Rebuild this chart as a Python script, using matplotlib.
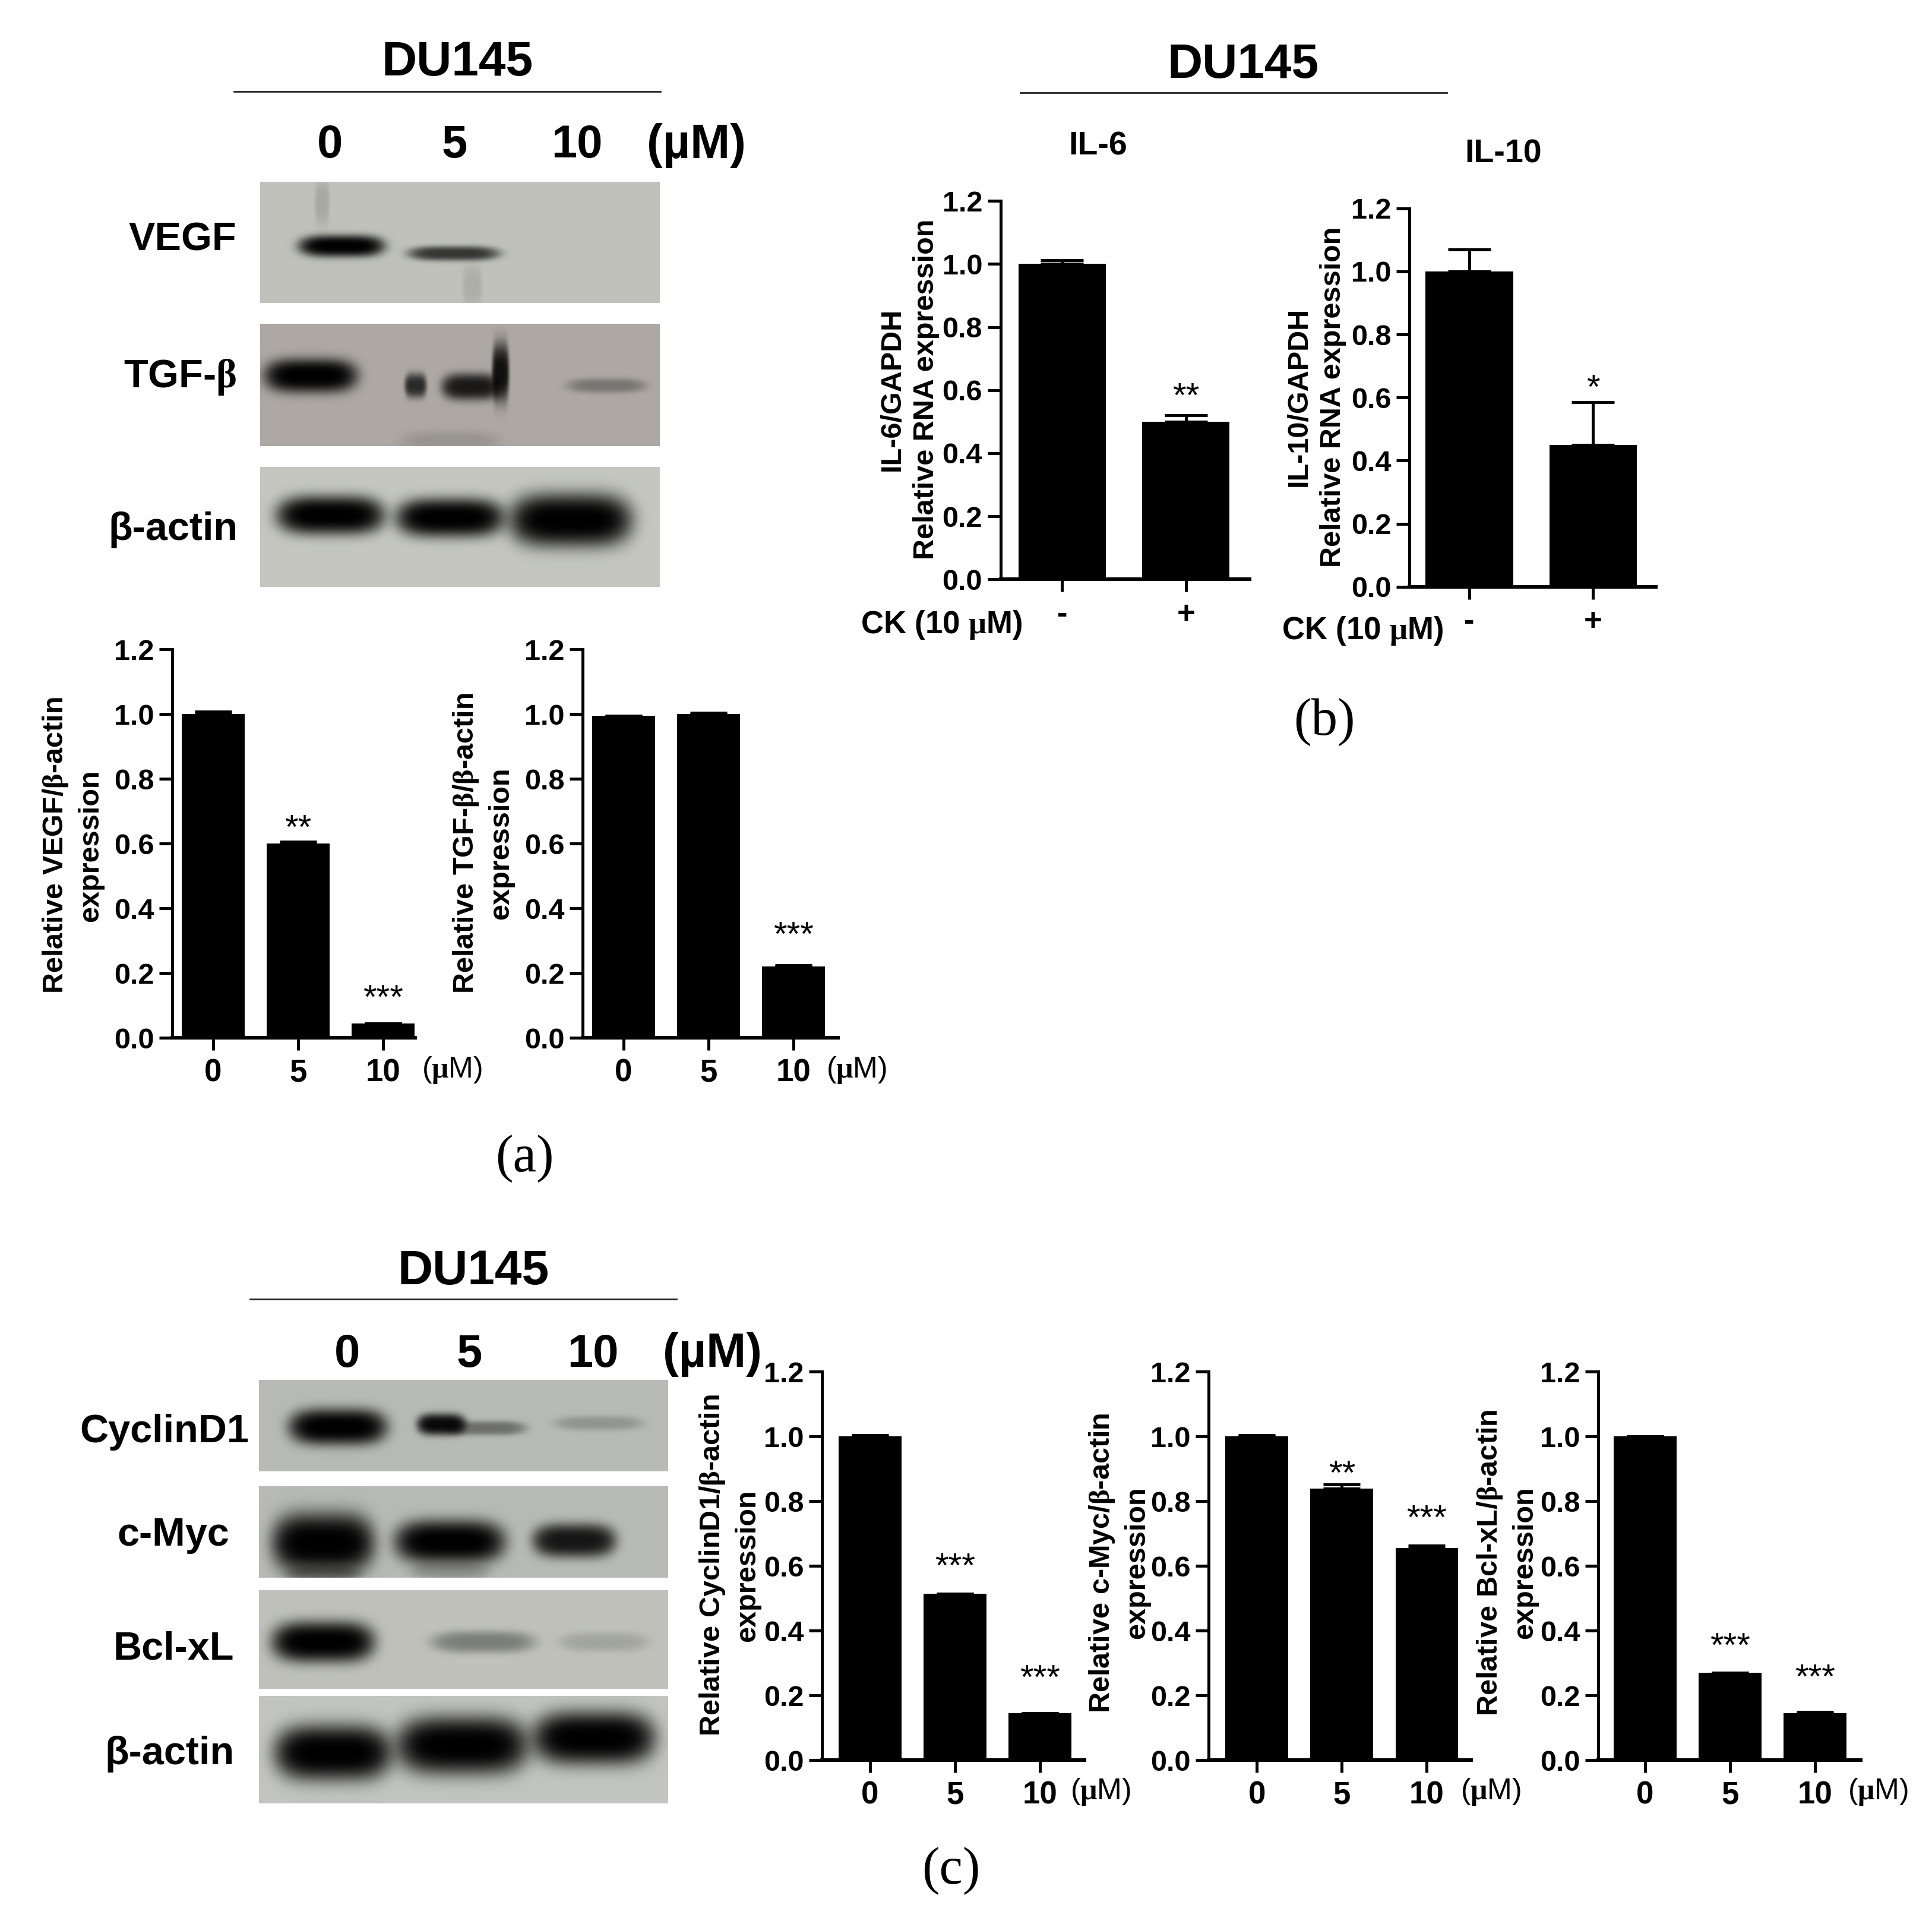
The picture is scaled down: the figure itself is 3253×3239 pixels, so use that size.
import numpy as np
import matplotlib
matplotlib.use('Agg')
import matplotlib.pyplot as plt

plt.rcParams['font.family'] = ['Liberation Sans', 'DejaVu Sans']
plt.rcParams['font.weight'] = 'bold'
plt.rcParams['mathtext.fontset'] = 'custom'
plt.rcParams['mathtext.rm'] = 'Liberation Serif'

W, H = 1568, 1561  # layout below is measured on the shrunk reference
BETA = r'$\mathrm{\beta}$'
MU = r'$\mathrm{\mu}$'

# bar values
doses = ['0', '5', '10']
treat = ['-', '+']
vegf = [1.0, 0.60, 0.045]
vegf_err = [0.008, 0.006, 0.0]
tgfb = [0.995, 1.0, 0.22]
tgfb_err = [0.0, 0.004, 0.005]
il6 = [1.0, 0.50]
il6_err = [0.012, 0.02]
il10 = [1.0, 0.45]
il10_err = [0.07, 0.135]
cyclin = [1.0, 0.515, 0.145]
cyclin_err = [0.005, 0.0, 0.0]
myc = [1.0, 0.84, 0.655]
myc_err = [0.005, 0.012, 0.007]
bcl = [1.0, 0.27, 0.145]
bcl_err = [0.0, 0.0, 0.004]
yticks = [0.0, 0.2, 0.4, 0.6, 0.8, 1.0, 1.2]

# panel: values, err, tick names, stars, star heights, ylabel, axis box, first bar px, step px, bar px, cap
panels = [
    (vegf, vegf_err, doses, ['', '**', '***'], [0, 0.644, 0.118], f'Relative VEGF/{BETA}-actin\nexpression',
     (140, 337, 527, 842), 173, 69, 51, 11, (59, 686)),
    (tgfb, tgfb_err, doses, ['', '', '***'], [0, 0, 0.312], f'Relative TGF-{BETA}/{BETA}-actin\nexpression',
     (473, 680, 527, 842), 506, 69, 51, 11, (392, 684)),
    (il6, il6_err, treat, ['', '**'], [0, 0.575], 'IL-6/GAPDH\nRelative RNA expression',
     (812, 1014, 163, 470), 862, 100.5, 71, 13, (738, 316)),
    (il10, il10_err, treat, ['', '*'], [0, 0.626], 'IL-10/GAPDH\nRelative RNA expression',
     (1144, 1344, 169, 476), 1192.5, 100.5, 71, 13, (1068, 322)),
    (cyclin, cyclin_err, doses, ['', '***', '***'], [0, 0.594, 0.248], f'Relative CyclinD1/{BETA}-actin\nexpression',
     (667, 880, 1113, 1428), 706, 69, 51, 11, (592, 1270)),
    (myc, myc_err, doses, ['', '**', '***'], [0, 0.88, 0.743], f'Relative c-Myc/{BETA}-actin\nexpression',
     (981, 1194, 1113, 1428), 1020, 69, 51, 11, (908, 1268)),
    (bcl, bcl_err, doses, ['', '***', '***'], [0, 0.347, 0.251], f'Relative Bcl-xL/{BETA}-actin\nexpression',
     (1297, 1510, 1113, 1428), 1335, 69, 51, 11, (1223, 1268)),
]

# blots: box (x0, x1, y0, y1), background colour, bands (cx, cy, half w, half h, darkness)
blots = [
    ((211, 535, 148, 246), (0.75, 0.76, 0.73), [(277, 200, 35, 9, 1.0), (368, 206, 37, 6, 0.72), (261, 165, 6, 18, 0.13),
                                                (383, 232, 8, 16, 0.1)]),
    ((211, 535, 263, 362), (0.68, 0.66, 0.64), [(252, 305, 38, 14, 1.0), (337, 313, 9, 10, 0.75), (382, 314, 24, 11, 0.85),
                                                (406, 302, 7, 24, 0.9), (492, 313, 32, 6, 0.3), (365, 358, 40, 8, 0.12)]),
    ((211, 535, 379, 476), (0.77, 0.78, 0.75), [(268, 418, 44, 16, 1.0), (365, 420, 44, 16, 1.0), (463, 422, 50, 22, 1.0)]),
    ((210, 542, 1120, 1194), (0.72, 0.73, 0.71), [(274, 1158, 40, 15, 1.0), (358, 1156, 20, 9, 0.95), (395, 1159, 32, 6, 0.4),
                                                  (486, 1155, 36, 6, 0.2)]),
    ((210, 542, 1206, 1280), (0.72, 0.73, 0.71), [(262, 1252, 42, 25, 1.0), (365, 1251, 45, 18, 1.0), (466, 1250, 34, 14, 0.88),
                                                  (262, 1277, 30, 6, 0.3), (365, 1275, 32, 7, 0.2)]),
    ((210, 542, 1290, 1370), (0.75, 0.76, 0.73), [(262, 1332, 42, 17, 1.0), (392, 1332, 42, 9, 0.35), (490, 1332, 36, 8, 0.15)]),
    ((210, 542, 1376, 1463), (0.76, 0.77, 0.75), [(270, 1422, 48, 23, 1.0), (375, 1416, 54, 24, 1.0), (482, 1410, 50, 22, 1.0)]),
]

texts = [
    (371, 51, 'DU145', 29.5), (1009, 53, 'DU145', 29.5), (384, 1032, 'DU145', 29.5),
    (268, 118, '0', 28), (369, 118, '5', 28), (468, 118, '10', 28), (565, 118, '(µM)', 29),
    (282, 1099, '0', 28), (381, 1099, '5', 28), (481, 1099, '10', 28), (578, 1099, '(µM)', 29),
    (891, 119, 'IL-6', 20), (1220, 125, 'IL-10', 20),
    (764, 507, f'CK (10 {MU}M)', 19), (1106, 512, f'CK (10 {MU}M)', 19),
]
row_labels = [
    (192, 195, 'VEGF'), (192, 306, f'TGF-{BETA}'), (193, 430, 'β-actin'),
    (202, 1162, 'CyclinD1'), (186, 1246, 'c-Myc'), (190, 1338, 'Bcl-xL'), (190, 1423, 'β-actin'),
]
unit_labels = [(367, 868), (695, 868), (893, 1454), (1210, 1454), (1524, 1454)]
rules = [(190, 536, 74), (828, 1174, 75), (203, 549, 1054)]
captions = [(426, 940, '(a)'), (1075, 586, '(b)'), (772, 1518, '(c)')]

fig = plt.figure(figsize=(3253 / 200, 3239 / 200), dpi=200, facecolor='white')

# overlay in reference pixels for blots and free text
over = fig.add_axes([0, 0, 1, 1])
over.axis('off')

for box, bg, bands in blots:
    x0, x1, y0, y1 = box
    xx, yy = np.meshgrid(np.linspace(x0, x1, (x1 - x0) * 2), np.linspace(y0, y1, (y1 - y0) * 2))
    clear = np.ones_like(xx)
    for cx, cy, hw, hh, d in bands:
        # stadium shaped soft blob, flat along x
        r2 = ((xx - cx) / hw) ** 4 + ((yy - cy) / hh) ** 2
        clear *= 1 - d * np.exp(-r2 ** 1.6)
    over.imshow(np.dstack([c * clear for c in bg]), extent=(x0, x1, y1, y0),
                aspect='auto', interpolation='bilinear')
over.set_xlim(0, W)
over.set_ylim(H, 0)

for x, y, s, size in texts:
    over.text(x, y, s, fontsize=size, ha='center', va='center')
for x, y, s in row_labels:
    over.text(x, y, s, fontsize=24, ha='right', va='center')
for x, y in unit_labels:
    over.text(x, y, f'({MU}M)', fontsize=18, fontweight='normal', ha='center', va='center')
for x0, x1, y in rules:
    over.plot([x0, x1], [y, y], color='#222222', lw=1.0)
for x, y, s in captions:
    over.text(x, y, s, fontsize=32, fontweight='normal', family='Liberation Serif', ha='center', va='center')

for vals, errs, names, stars, star_y, label, box, first, step, bar_w, cap, lab_xy in panels:
    left, right, top, bottom = box
    ax = fig.add_axes([left / W, 1 - bottom / H, (right - left) / W, (bottom - top) / H])
    ax.patch.set_alpha(0)
    pos = np.arange(len(vals))
    ax.bar(pos, vals, width=bar_w / step, color='black')
    ax.errorbar(pos, vals, yerr=[np.zeros(len(vals)), errs], fmt='none', ecolor='black',
                elinewidth=1.8, capsize=cap, capthick=1.8)
    ax.set_xlim((left - first) / step, (right - first) / step)
    ax.set_ylim(0, 1.2)
    ax.set_yticks(yticks)
    ax.set_yticklabels([f'{t:.1f}' for t in yticks], fontsize=17.5)
    ax.set_xticks(pos)
    ax.set_xticklabels(names, fontsize=19)
    ax.tick_params(axis='y', length=8, width=1.8, pad=3)
    ax.tick_params(axis='x', length=7.5, width=1.8, pad=5)
    for side in ['top', 'right']:
        ax.spines[side].set_visible(False)
    ax.spines['left'].set_linewidth(1.8)
    ax.spines['bottom'].set_linewidth(2.2)
    for i, s in enumerate(stars):
        if s:
            ax.text(i, star_y[i], s, fontsize=21, fontweight='normal', ha='center', va='center')
    over.text(lab_xy[0], lab_xy[1], label, fontsize=17.5, rotation=90, ha='center', va='center',
              multialignment='center', linespacing=1.35)

fig.savefig('out.png', dpi=200)
